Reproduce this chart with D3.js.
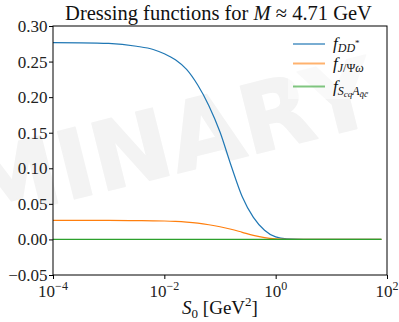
<!DOCTYPE html>
<html>
<head>
<meta charset="utf-8">
<script src="https://cdn.jsdelivr.net/npm/d3@7"></script>
<style>
  html, body { margin: 0; padding: 0; background: #fff; }
  svg { display: block; }
</style>
</head>
<body>
<svg id="chart" width="399" height="322"></svg>
<script>
// ---- data ----
const S0 = [1e-4, 3.16e-4, 1e-3, 3.16e-3, 6.31e-3, 1e-2, 1.58e-2, 2.51e-2, 3.98e-2, 6.31e-2,
            0.1, 0.158, 0.251, 0.398, 0.631, 1, 1.585, 3.16, 10, 31.6, 79.4];
const fDD = [0.2765, 0.2763, 0.2755, 0.2715, 0.267, 0.261, 0.2525, 0.239, 0.217, 0.188,
             0.151, 0.104, 0.060, 0.031, 0.013, 0.0035, 0.0008, 0.0001, 0, 0, 0];
const fJPsiOmega = [0.0268, 0.0268, 0.0267, 0.0264, 0.0262, 0.0259, 0.0253, 0.0243, 0.0228, 0.0206,
                    0.0178, 0.0143, 0.0100, 0.0057, 0.0025, 0.0008, 0.0002, 0, 0, 0, 0];
const fScqA = [0, 0, 0, 0, 0, 0, 0, 0, 0, 0, 0, 0, 0, 0, 0, 0, 0, 0, 0, 0, 0];
const yTicks = [-0.05, 0.00, 0.05, 0.10, 0.15, 0.20, 0.25, 0.30];
const xTicks = [1e-4, 1e-2, 1e0, 1e2];
const xTickExp = ["\u22124", "\u22122", "0", "2"];
const seriesColors = ["#1f77b4", "#ff7f0e", "#2ca02c"];

const svg = d3.select("#chart");
const W = 399, H = 322;
const L = 53, R = 387, T = 26, B = 275;
const serif = "'Liberation Serif', 'DejaVu Serif', serif";

svg.append("rect").attr("width", W).attr("height", H).attr("fill", "#fff");

// ---- watermark ----
const wmAngle = -14;
const wm = svg.append("text")
  .attr("font-family", "'DejaVu Sans', sans-serif")
  .attr("font-weight", "bold")
  .attr("font-size", 95)
  .attr("fill", "#f3f3f3")
  .attr("stroke", "#f3f3f3")
  .attr("stroke-width", 1.5)
  .attr("stroke-linejoin", "round")
  .text("PRELIMINARY");
const off = wm.node().getSubStringLength(0, 6);
const ang = wmAngle * Math.PI / 180;
const tx = 66 - off * Math.cos(ang), ty = 201 - off * Math.sin(ang);
wm.attr("transform", `translate(${tx},${ty}) rotate(${wmAngle})`);

// ---- scales ----
const x = d3.scaleLog().domain([1e-4, 1e2]).range([L, R]);
const y = d3.scaleLinear().domain([-0.05, 0.30]).range([B, T]);

// ---- clip ----
svg.append("defs").append("clipPath").attr("id", "clip")
  .append("rect").attr("x", L).attr("y", T).attr("width", R - L).attr("height", B - T);

const line = d3.line().x(d => x(d[0])).y(d => y(d[1])).curve(d3.curveMonotoneX);
const series = [fDD, fJPsiOmega, fScqA];
const g = svg.append("g").attr("clip-path", "url(#clip)");
series.forEach((vals, i) => {
  g.append("path")
    .datum(S0.map((s, k) => [s, vals[k]]))
    .attr("fill", "none")
    .attr("stroke", seriesColors[i])
    .attr("stroke-width", 1.2)
    .attr("d", line);
});

// ---- axes ----
const yAxis = svg.append("g").attr("transform", `translate(${L},0)`)
  .call(d3.axisLeft(y).tickValues(yTicks).tickFormat(d3.format(".2f")).tickSize(4).tickSizeOuter(0).tickPadding(1.5));
yAxis.select(".domain").remove();
yAxis.selectAll("text").attr("font-family", serif).attr("font-size", 17).attr("fill", "#222");
yAxis.selectAll("line").attr("stroke", "#000");

const xAxis = svg.append("g").attr("transform", `translate(0,${B})`)
  .call(d3.axisBottom(x).tickValues(xTicks).tickFormat("").tickSize(4).tickSizeOuter(0));
xAxis.select(".domain").remove();
xAxis.selectAll("line").attr("stroke", "#000");
xTicks.forEach((t, i) => {
  const tt = svg.append("text")
    .attr("x", x(t)).attr("y", 297)
    .attr("text-anchor", "middle")
    .attr("font-family", serif).attr("font-size", 17).attr("fill", "#222");
  tt.append("tspan").text("10");
  tt.append("tspan").attr("dy", -7).attr("font-size", 12).text(xTickExp[i]);
});

// frame
svg.append("rect").attr("x", L).attr("y", T).attr("width", R - L).attr("height", B - T)
  .attr("fill", "none").attr("stroke", "#000").attr("stroke-width", 1);

// ---- title ----
const title = svg.append("text")
  .attr("x", (L + R) / 2 - 1.5).attr("y", 20)
  .attr("text-anchor", "middle")
  .attr("font-family", serif).attr("font-size", 19).attr("fill", "#111");
title.append("tspan").text("Dressing functions for ");
title.append("tspan").attr("font-style", "italic").text("M");
title.append("tspan").text(" \u2248 4.71 GeV");
const tw = title.node().getComputedTextLength();
title.attr("font-size", 19 * 307 / tw);

// ---- x label ----
const xl = svg.append("text")
  .attr("x", (L + R) / 2).attr("y", 314)
  .attr("text-anchor", "middle")
  .attr("font-family", serif).attr("font-size", 19).attr("fill", "#111");
xl.append("tspan").attr("font-style", "italic").text("S");
xl.append("tspan").attr("dy", 4).attr("font-size", 13).text("0");
xl.append("tspan").attr("dy", -4).text(" [GeV");
xl.append("tspan").attr("dy", -8).attr("font-size", 13).text("2");
xl.append("tspan").attr("dy", 8).text("]");

// ---- legend ----
const leg = svg.append("g");
leg.append("rect").attr("x", 288).attr("y", 33).attr("width", 95).attr("height", 66)
  .attr("fill", "#fff").attr("fill-opacity", 0.5);
const legY = [44, 63.5, 86.5];
legY.forEach((ly, i) => {
  leg.append("line").attr("x1", 293).attr("x2", 325).attr("y1", ly).attr("y2", ly)
    .attr("stroke", seriesColors[i]).attr("stroke-width", 2).attr("stroke-opacity", 0.6);
});
function legText(i) {
  return leg.append("text").attr("x", 333).attr("y", legY[i] + 5)
    .attr("font-family", serif).attr("font-size", 17).attr("fill", "#111");
}
let t1 = legText(0);
t1.append("tspan").attr("font-style", "italic").text("f");
t1.append("tspan").attr("dy", 3).attr("font-size", 12).attr("font-style", "italic").text("DD");
t1.append("tspan").attr("dy", -6).attr("font-size", 9).text("*");
let t2 = legText(1);
t2.append("tspan").attr("font-style", "italic").text("f");
t2.append("tspan").attr("dy", 3).attr("font-size", 12).attr("font-style", "italic").text("J");
t2.append("tspan").attr("font-size", 12).text("/\u03A8");
t2.append("tspan").attr("font-size", 12).attr("font-style", "italic").text("\u03C9");
let t3 = legText(2);
t3.append("tspan").attr("font-style", "italic").text("f");
t3.append("tspan").attr("dy", 3).attr("font-size", 12).attr("font-style", "italic").text("S");
t3.append("tspan").attr("dy", 2).attr("font-size", 9).attr("font-style", "italic").text("cq");
t3.append("tspan").attr("dy", -2).attr("font-size", 12).attr("font-style", "italic").text("A");
t3.append("tspan").attr("dy", 2).attr("font-size", 9).attr("font-style", "italic").text("q\u0304c\u0304");
</script>
</body>
</html>
